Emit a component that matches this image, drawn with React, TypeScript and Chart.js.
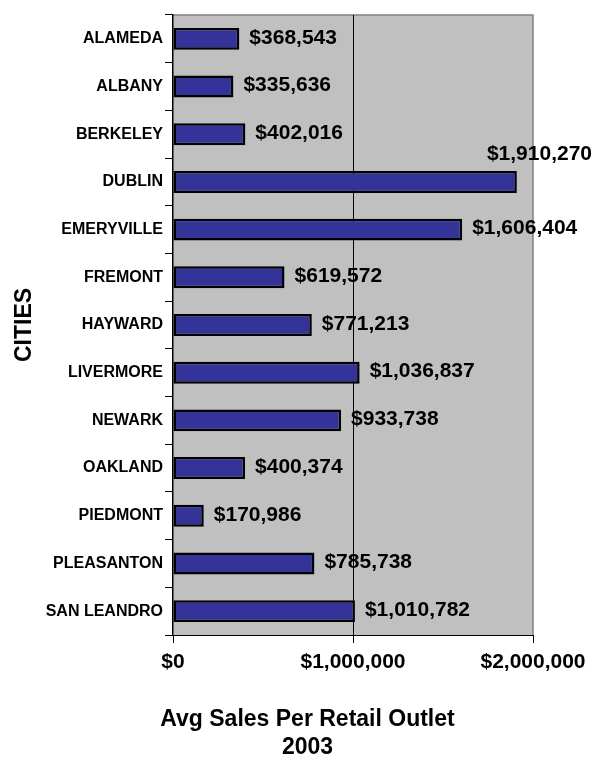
import React, { useEffect, useRef } from "react";
import { Chart, registerables } from "chart.js";

Chart.register(...registerables);

const cities = [
  "ALAMEDA",
  "ALBANY",
  "BERKELEY",
  "DUBLIN",
  "EMERYVILLE",
  "FREMONT",
  "HAYWARD",
  "LIVERMORE",
  "NEWARK",
  "OAKLAND",
  "PIEDMONT",
  "PLEASANTON",
  "SAN LEANDRO",
];
const avgSales = [
  368543, 335636, 402016, 1910270, 1606404, 619572, 771213, 1036837, 933738,
  400374, 170986, 785738, 1010782,
];
const xTickValues = [0, 1000000, 2000000];
const xAxisTitle = ["Avg Sales Per Retail Outlet", "2003"];
const yAxisTitle = "CITIES";

const FONT = '"Liberation Sans", Arial, Helvetica, sans-serif';

const fmt = (v: number) =>
  "$" + String(Math.round(v)).replace(/\B(?=(\d{3})+(?!\d))/g, ",");

const plotBg = {
  id: "plotBg",
  beforeDraw(chart: any) {
    const { ctx, chartArea: a } = chart;
    ctx.save();
    ctx.fillStyle = "#C0C0C0";
    ctx.fillRect(a.left, a.top, a.right - a.left, a.bottom - a.top);
    ctx.strokeStyle = "#808080";
    ctx.lineWidth = 1.5;
    ctx.beginPath();
    ctx.moveTo(a.left, a.top);
    ctx.lineTo(a.right, a.top);
    ctx.lineTo(a.right, a.bottom);
    ctx.stroke();
    ctx.restore();
  },
};

const valueLabels = {
  id: "valueLabels",
  afterDatasetsDraw(chart: any) {
    const { ctx } = chart;
    const meta = chart.getDatasetMeta(0);
    ctx.save();
    ctx.font = `bold 21px ${FONT}`;
    ctx.fillStyle = "#000";
    ctx.textBaseline = "middle";
    meta.data.forEach((bar: any, i: number) => {
      const text = fmt(avgSales[i]);
      const w = ctx.measureText(text).width;
      const { x, y, height } = bar.getProps(["x", "y", "height"], true);
      if (x + 10 + w > chart.width - 8) {
        ctx.textAlign = "right";
        ctx.fillText(text, chart.width - 11, y - height - 6);
      } else {
        ctx.textAlign = "left";
        ctx.fillText(text, x + 10, y - 1);
      }
    });
    ctx.restore();
  },
};

const bottomTitle = {
  id: "bottomTitle",
  afterDraw(chart: any) {
    const { ctx } = chart;
    ctx.save();
    ctx.font = `bold 23px ${FONT}`;
    ctx.fillStyle = "#000";
    ctx.textAlign = "center";
    ctx.textBaseline = "middle";
    const cx = chart.width / 2 + 6;
    ctx.fillText(xAxisTitle[0], cx, 720);
    ctx.fillText(xAxisTitle[1], cx, 748);
    ctx.restore();
  },
};

export default function App() {
  const ref = useRef<HTMLCanvasElement | null>(null);

  useEffect(() => {
    if (!ref.current) return;
    const chart = new Chart(ref.current, {
      type: "bar",
      data: {
        labels: cities,
        datasets: [
          {
            data: avgSales,
            backgroundColor: "#333399",
            borderColor: "#000000",
            borderWidth: 2.5,
            borderSkipped: false,
            barPercentage: 0.46,
            categoryPercentage: 1,
          },
        ],
      },
      options: {
        indexAxis: "y",
        responsive: false,
        animation: false,
        devicePixelRatio: 1,
        layout: { padding: { top: 15, right: 70, bottom: 0, left: 0 } },
        plugins: {
          legend: { display: false },
          tooltip: { enabled: false },
          title: { display: false },
        },
        scales: {
          x: {
            type: "linear",
            min: 0,
            max: 2000000,
            afterBuildTicks(scale: any) {
              scale.ticks = xTickValues.map((v) => ({ value: v }));
            },
            grid: {
              color: (c: any) =>
                c.tick && c.tick.value === 1000000 ? "#000" : "rgba(0,0,0,0)",
              tickColor: "#000",
              tickLength: 8,
              drawTicks: true,
              lineWidth: 1,
            },
            border: { display: true, color: "#000", width: 1 },
            ticks: {
              color: "#000",
              font: { family: FONT, size: 21, weight: "bold" },
              padding: 7,
              maxRotation: 0,
              autoSkip: false,
              callback: (v: any) => fmt(Number(v)),
            },
            afterFit(scale: any) {
              scale.height = 129;
            },
          },
          y: {
            type: "category",
            grid: {
              offset: true,
              drawOnChartArea: false,
              drawTicks: true,
              tickLength: 8,
              tickColor: "#000",
              lineWidth: 1,
            },
            border: { display: true, color: "#000", width: 1.5 },
            ticks: {
              color: "#000",
              font: { family: FONT, size: 16, weight: "bold" },
              padding: 2,
              autoSkip: false,
            },
            title: {
              display: true,
              text: yAxisTitle,
              color: "#000",
              font: { family: FONT, size: 23, weight: "bold" },
              padding: { top: 11, bottom: 0 },
            },
            afterFit(scale: any) {
              scale.width = 173;
            },
          },
        },
      },
      plugins: [plotBg, valueLabels, bottomTitle],
    } as any);
    return () => chart.destroy();
  }, []);

  return (
    <div style={{ position: "absolute", left: 0, top: 0, width: 603, height: 764 }}>
      <canvas ref={ref} width={603} height={764} style={{ display: "block" }} />
    </div>
  );
}
